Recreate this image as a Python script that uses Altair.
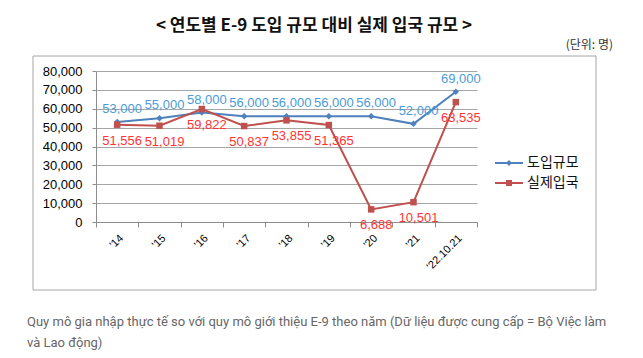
import altair as alt
import pandas as pd

categories = ["'14", "'15", "'16", "'17", "'18", "'19", "'20", "'21", "'22.10.21"]
series_names = ["도입규모", "실제입국"]
plan_values = [53000, 55000, 58000, 56000, 56000, 56000, 56000, 52000, 69000]
actual_values = [51556, 51019, 59822, 50837, 53855, 51365, 6688, 10501, 63535]
y_ticks = [0, 10000, 20000, 30000, 40000, 50000, 60000, 70000, 80000]

title_text = "< 연도별 E-9 도입 규모 대비 실제 입국 규모 >"
unit_text = "(단위: 명)"
caption_lines = [
    "Quy mô gia nhập thực tế so với quy mô giới thiệu E-9 theo năm (Dữ liệu được cung cấp = Bộ Việc làm",
    "và Lao động)",
]

line_colors = ["#4F81BD", "#C0504D"]
label_colors = ["#4A9BD8", "#FF3333"]

rows = []
for i, c in enumerate(categories):
    rows.append({"cat": c, "series": series_names[0], "value": plan_values[i]})
    rows.append({"cat": c, "series": series_names[1], "value": actual_values[i]})
df = pd.DataFrame(rows)

W, H = 381, 151

x_enc = alt.X(
    "cat:N",
    sort=categories,
    scale=alt.Scale(type="band", paddingInner=0, paddingOuter=0),
    bandPosition=0.5,
    title=None,
    axis=alt.Axis(
        labelAngle=-45,
        labelFont="Liberation Sans",
        labelFontSize=11,
        labelColor="#000000",
        labelPadding=5,
        tickBand="extent",
        tickSize=5,
        tickColor="#8c8c8c",
        domainColor="#8c8c8c",
        grid=False,
    ),
)
y_enc = alt.Y(
    "value:Q",
    scale=alt.Scale(domain=[0, 80000], nice=False),
    title=None,
    axis=alt.Axis(
        values=y_ticks,
        format=",.0f",
        labelFont="Liberation Sans",
        labelFontSize=13,
        labelColor="#000000",
        labelPadding=10,
        tickSize=4,
        tickColor="#8c8c8c",
        domainColor="#8c8c8c",
        gridColor="#a6a6a6",
        grid=True,
    ),
)

color_enc = alt.Color(
    "series:N", scale=alt.Scale(domain=series_names, range=line_colors), legend=None
)

base = alt.Chart(df).encode(x=x_enc, y=y_enc)

lines = base.mark_line(strokeWidth=2).encode(color=color_enc)
points = base.mark_point(filled=True, opacity=1, size=42).encode(
    color=color_enc,
    shape=alt.Shape(
        "series:N",
        scale=alt.Scale(domain=series_names, range=["diamond", "square"]),
        legend=None,
    ),
)

plan_labels = (
    base.transform_filter(alt.datum.series == series_names[0])
    .mark_text(
        font="Liberation Sans", fontSize=13, dy=-13, dx=5, color=label_colors[0],
        baseline="middle",
    )
    .encode(text=alt.Text("value:Q", format=",.0f"))
)
actual_labels = (
    base.transform_filter(alt.datum.series == series_names[1])
    .mark_text(
        font="Liberation Sans", fontSize=13, dy=16, dx=5, color=label_colors[1],
        baseline="middle",
    )
    .encode(text=alt.Text("value:Q", format=",.0f"))
)

one = pd.DataFrame({"a": [0]})

frame = alt.Chart(one).mark_rect(
    fillOpacity=0, stroke="#a6a6a6", strokeWidth=1
).encode(
    x=alt.value(-63), x2=alt.value(500), y=alt.value(-15), y2=alt.value(219)
)

title = alt.Chart(pd.DataFrame({"t": [title_text]})).mark_text(
    font="Noto Sans CJK KR", fontSize=17, fontWeight="bold", color="#111111",
    align="center", baseline="middle",
).encode(text="t:N", x=alt.value(218), y=alt.value(-45))

unit = alt.Chart(pd.DataFrame({"t": [unit_text]})).mark_text(
    font="Noto Sans CJK KR", fontSize=12, color="#333333",
    align="right", baseline="middle",
).encode(text="t:N", x=alt.value(517), y=alt.value(-26))

cap1 = alt.Chart(pd.DataFrame({"t": [caption_lines[0]]})).mark_text(
    font="Roboto", fontSize=13, color="#666666", align="left", baseline="middle",
).encode(text="t:N", x=alt.value(-69), y=alt.value(251))
cap2 = alt.Chart(pd.DataFrame({"t": [caption_lines[1]]})).mark_text(
    font="Roboto", fontSize=13, color="#666666", align="left", baseline="middle",
).encode(text="t:N", x=alt.value(-69), y=alt.value(272))

legend_layers = []
legend_ys = [92, 112]
legend_shapes = ["diamond", "square"]
for i, name in enumerate(series_names):
    ly = legend_ys[i]
    legend_layers.append(
        alt.Chart(one).mark_rule(color=line_colors[i], strokeWidth=2).encode(
            x=alt.value(399), x2=alt.value(427), y=alt.value(ly)
        )
    )
    legend_layers.append(
        alt.Chart(one).mark_point(
            filled=True, opacity=1, size=36, shape=legend_shapes[i], color=line_colors[i]
        ).encode(x=alt.value(413), y=alt.value(ly))
    )
    legend_layers.append(
        alt.Chart(pd.DataFrame({"t": [name]})).mark_text(
            font="Noto Sans CJK KR", fontSize=14, color="#111111",
            align="left", baseline="middle",
        ).encode(text="t:N", x=alt.value(431), y=alt.value(ly))
    )

chart = (
    alt.layer(
        frame, lines, points, plan_labels, actual_labels, title, unit, cap1, cap2,
        *legend_layers,
    )
    .properties(
        width=W,
        height=H,
        autosize=alt.AutoSizeParams(type="none"),
        padding={"left": 88, "top": 63, "right": 158, "bottom": 128},
        background="#ffffff",
    )
    .configure_view(stroke=None)
)

chart.save("out.html", embed_options={"renderer": "svg", "actions": False})
